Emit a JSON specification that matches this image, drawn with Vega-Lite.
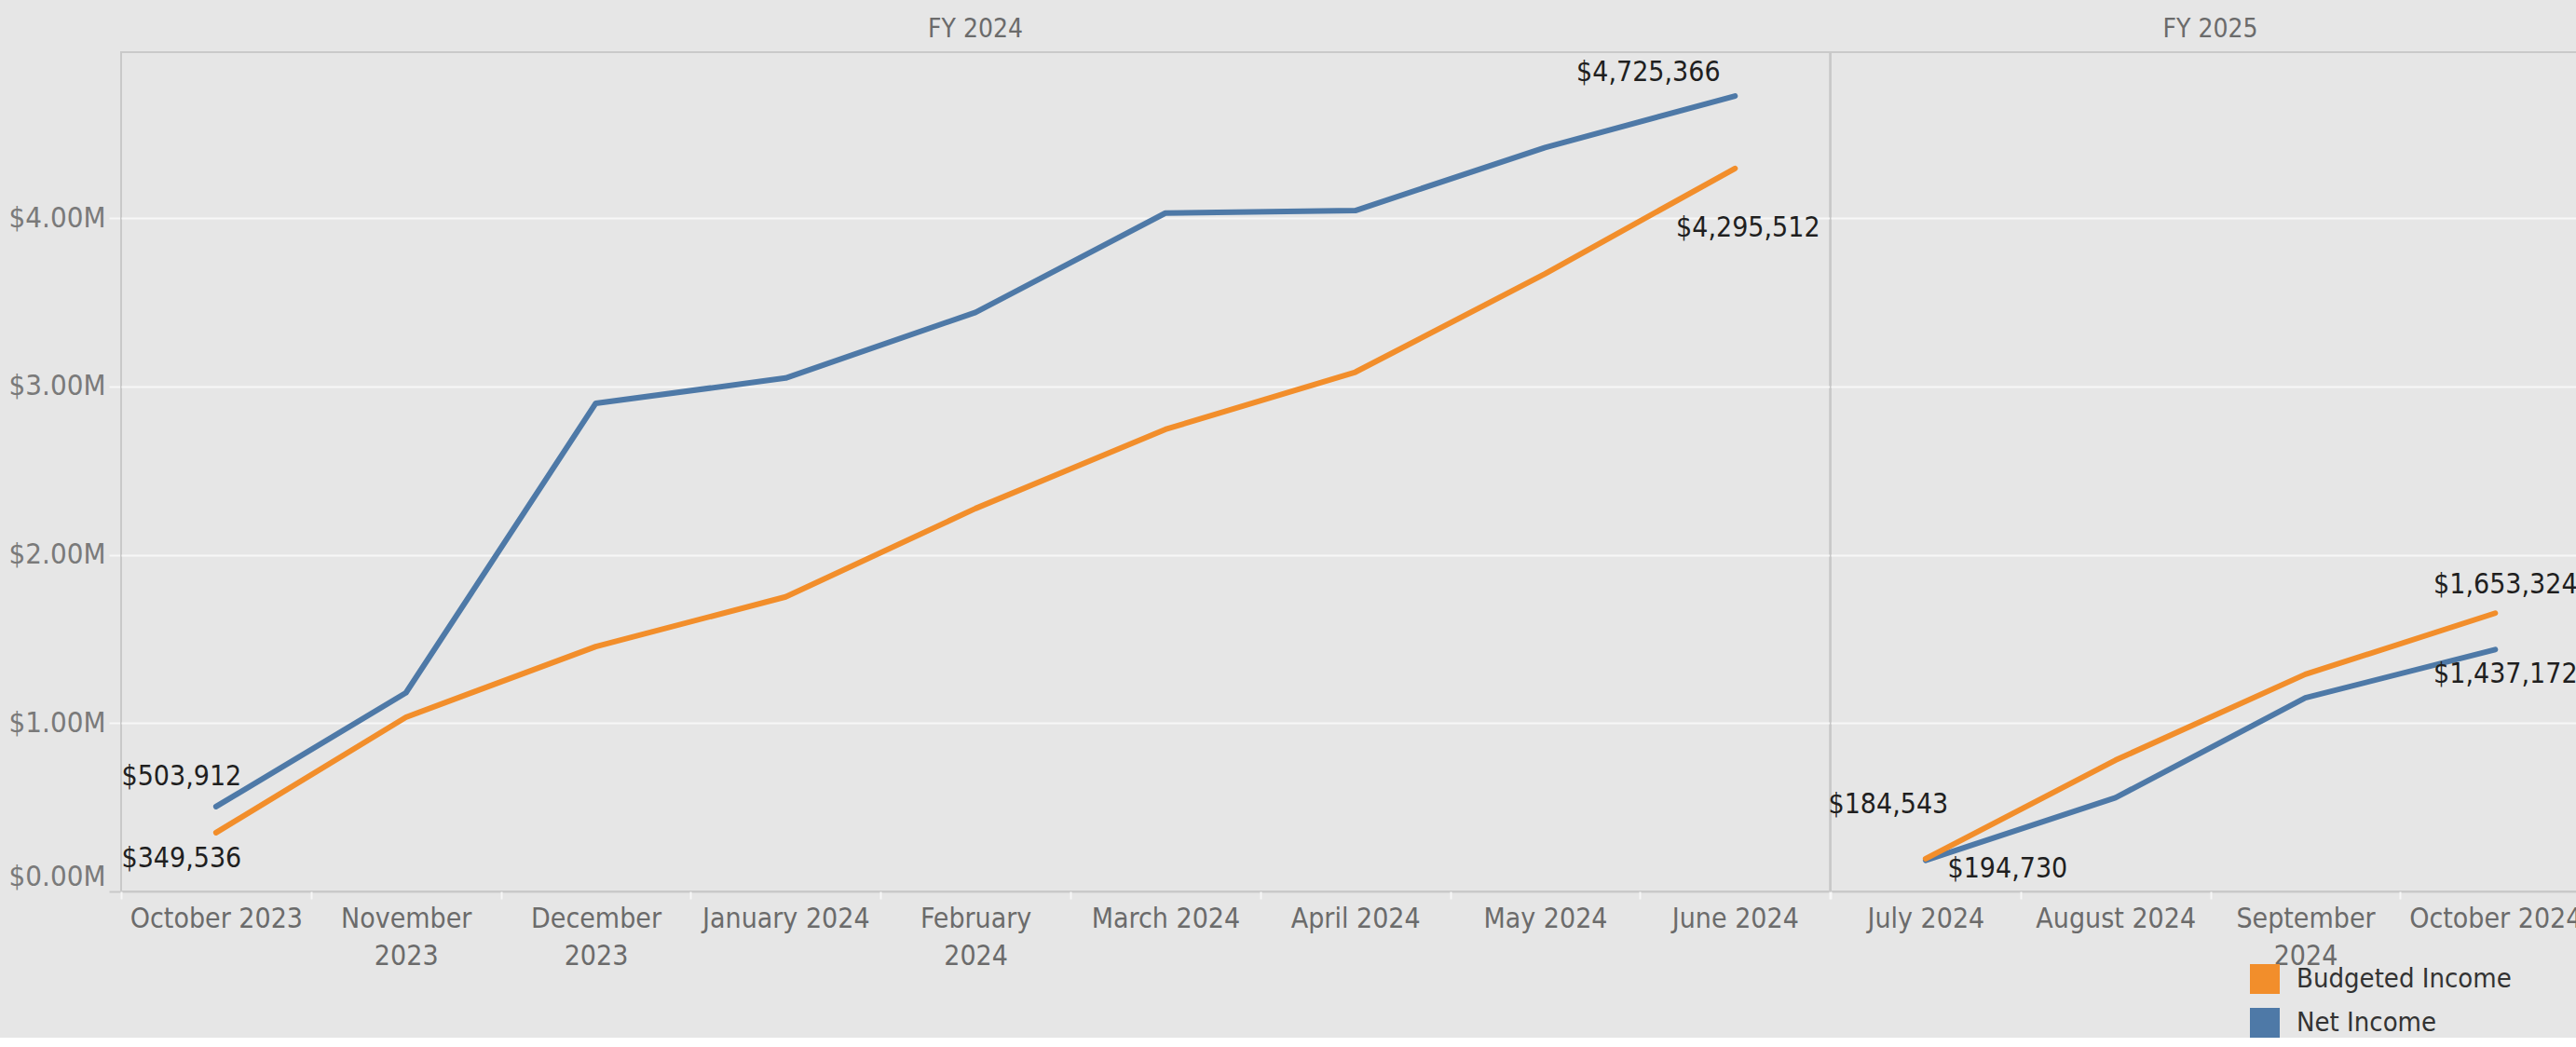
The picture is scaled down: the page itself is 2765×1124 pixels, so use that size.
{
  "$schema": "https://vega.github.io/schema/vega-lite/v6.json",
  "background": "#e6e6e6",
  "padding": {"left": 5, "top": 18, "right": 0, "bottom": 0},
  "bounds": "flush",
  "data": {
    "values": [
      {"fy": "FY 2024", "month": "October 2023", "series": "Net Income", "value": 503912},
      {"fy": "FY 2024", "month": "November 2023", "series": "Net Income", "value": 1180000},
      {"fy": "FY 2024", "month": "December 2023", "series": "Net Income", "value": 2900000},
      {"fy": "FY 2024", "month": "January 2024", "series": "Net Income", "value": 3050000},
      {"fy": "FY 2024", "month": "February 2024", "series": "Net Income", "value": 3440000},
      {"fy": "FY 2024", "month": "March 2024", "series": "Net Income", "value": 4030000},
      {"fy": "FY 2024", "month": "April 2024", "series": "Net Income", "value": 4045000},
      {"fy": "FY 2024", "month": "May 2024", "series": "Net Income", "value": 4420000},
      {"fy": "FY 2024", "month": "June 2024", "series": "Net Income", "value": 4725366},
      {"fy": "FY 2025", "month": "July 2024", "series": "Net Income", "value": 184543},
      {"fy": "FY 2025", "month": "August 2024", "series": "Net Income", "value": 557000},
      {"fy": "FY 2025", "month": "September 2024", "series": "Net Income", "value": 1150000},
      {"fy": "FY 2025", "month": "October 2024", "series": "Net Income", "value": 1437172},
      {"fy": "FY 2024", "month": "October 2023", "series": "Budgeted Income", "value": 349536},
      {"fy": "FY 2024", "month": "November 2023", "series": "Budgeted Income", "value": 1035000},
      {"fy": "FY 2024", "month": "December 2023", "series": "Budgeted Income", "value": 1455000},
      {"fy": "FY 2024", "month": "January 2024", "series": "Budgeted Income", "value": 1750000},
      {"fy": "FY 2024", "month": "February 2024", "series": "Budgeted Income", "value": 2275000},
      {"fy": "FY 2024", "month": "March 2024", "series": "Budgeted Income", "value": 2745000},
      {"fy": "FY 2024", "month": "April 2024", "series": "Budgeted Income", "value": 3085000},
      {"fy": "FY 2024", "month": "May 2024", "series": "Budgeted Income", "value": 3670000},
      {"fy": "FY 2024", "month": "June 2024", "series": "Budgeted Income", "value": 4295512},
      {"fy": "FY 2025", "month": "July 2024", "series": "Budgeted Income", "value": 194730},
      {"fy": "FY 2025", "month": "August 2024", "series": "Budgeted Income", "value": 780000},
      {"fy": "FY 2025", "month": "September 2024", "series": "Budgeted Income", "value": 1290000},
      {"fy": "FY 2025", "month": "October 2024", "series": "Budgeted Income", "value": 1653324}
    ]
  },
  "facet": {
    "column": {
      "field": "fy",
      "type": "nominal",
      "title": null,
      "header": {"labelFontSize": 28, "labelColor": "#6b6b6b", "labelPadding": 10, "labelFont": "'DejaVu Sans Condensed', 'DejaVu Sans', sans-serif"}
    }
  },
  "spacing": 0,
  "resolve": {"scale": {"x": "independent"}},
  "spec": {
    "width": {"step": 203.8},
    "height": 901,
    "encoding": {
      "x": {
        "field": "month",
        "type": "ordinal",
        "sort": ["October 2023", "November 2023", "December 2023", "January 2024", "February 2024", "March 2024", "April 2024", "May 2024", "June 2024", "July 2024", "August 2024", "September 2024", "October 2024"],
        "bandPosition": 0.5,
        "scale": {"type": "band", "paddingInner": 0, "paddingOuter": 0},
        "axis": {
          "title": null,
          "labelAngle": 0,
          "labelFontSize": 30,
          "labelColor": "#6b6b6b",
          "labelPadding": 6,
          "labelLineHeight": 40,
          "labelLimit": 0,
          "labelExpr": "indexof(['November 2023','December 2023','February 2024','September 2024'], datum.label) >= 0 ? split(datum.label, ' ') : datum.label",
          "domain": false,
          "ticks": true,
          "tickBand": "extent",
          "tickColor": "#f7f7f7",
          "tickSize": 8,
          "tickWidth": 2,
          "grid": false
        }
      },
      "y": {
        "field": "value",
        "type": "quantitative",
        "scale": {"domain": [0, 4986000], "nice": false},
        "axis": {
          "title": null,
          "values": [0, 1000000, 2000000, 3000000, 4000000],
          "labelExpr": "'$' + format(datum.value / 1000000, '.2f') + 'M'",
          "labelFontSize": 31,
          "labelColor": "#7a7a7a",
          "labelPadding": 4,
          "labelFlush": true,
          "domain": false,
          "tickColor": {"condition": {"test": "datum.value === 0", "value": "#c9c9c9"}, "value": "#f7f7f7"},
          "tickSize": 13,
          "tickWidth": 2,
          "gridColor": {"condition": {"test": "datum.value === 0", "value": "#c9c9c9"}, "value": "#f7f7f7"},
          "gridWidth": 2,
          "minExtent": 125,
          "maxExtent": 125
        }
      }
    },
    "layer": [
      {
        "mark": {"type": "line", "strokeWidth": 6, "strokeCap": "round", "strokeJoin": "round"},
        "encoding": {
          "color": {
            "field": "series",
            "type": "nominal",
            "scale": {"domain": ["Budgeted Income", "Net Income"], "range": ["#f28e2b", "#4e79a7"]},
            "legend": {
              "orient": "none",
              "legendX": 2285,
              "legendY": 979,
              "title": null,
              "symbolType": "square",
              "symbolSize": 1024,
              "labelFontSize": 29,
              "labelColor": "#333333",
              "labelOffset": 18,
              "labelLimit": 0,
              "rowPadding": 15,
              "encode": {
                "symbols": {
                  "update": {
                    "fill": {"scale": "color", "field": "value"},
                    "fillOpacity": {"value": 1},
                    "strokeWidth": {"value": 0},
                    "shape": {"value": "square"}
                  }
                }
              }
            }
          }
        }
      },
      {
        "transform": [{"filter": "datum.series === 'Net Income' && datum.month === 'October 2023'"}],
        "mark": {"type": "text", "dx": -37, "dy": -32},
        "encoding": {"text": {"field": "value", "type": "quantitative", "format": "$,.0f"}}
      },
      {
        "transform": [{"filter": "datum.series === 'Budgeted Income' && datum.month === 'October 2023'"}],
        "mark": {"type": "text", "dx": -37, "dy": 28},
        "encoding": {"text": {"field": "value", "type": "quantitative", "format": "$,.0f"}}
      },
      {
        "transform": [{"filter": "datum.series === 'Net Income' && datum.month === 'June 2024'"}],
        "mark": {"type": "text", "dx": -93, "dy": -25},
        "encoding": {"text": {"field": "value", "type": "quantitative", "format": "$,.0f"}}
      },
      {
        "transform": [{"filter": "datum.series === 'Budgeted Income' && datum.month === 'June 2024'"}],
        "mark": {"type": "text", "dx": 14, "dy": 64},
        "encoding": {"text": {"field": "value", "type": "quantitative", "format": "$,.0f"}}
      },
      {
        "transform": [{"filter": "datum.series === 'Net Income' && datum.month === 'July 2024'"}],
        "mark": {"type": "text", "dx": -40, "dy": -60},
        "encoding": {"text": {"field": "value", "type": "quantitative", "format": "$,.0f"}}
      },
      {
        "transform": [{"filter": "datum.series === 'Budgeted Income' && datum.month === 'July 2024'"}],
        "mark": {"type": "text", "dx": 88, "dy": 11},
        "encoding": {"text": {"field": "value", "type": "quantitative", "format": "$,.0f"}}
      },
      {
        "transform": [{"filter": "datum.series === 'Budgeted Income' && datum.month === 'October 2024'"}],
        "mark": {"type": "text", "dx": 11, "dy": -30},
        "encoding": {"text": {"field": "value", "type": "quantitative", "format": "$,.0f"}}
      },
      {
        "transform": [{"filter": "datum.series === 'Net Income' && datum.month === 'October 2024'"}],
        "mark": {"type": "text", "dx": 11, "dy": 27},
        "encoding": {"text": {"field": "value", "type": "quantitative", "format": "$,.0f"}}
      }
    ]
  },
  "config": {
    "font": "'DejaVu Sans Condensed', 'DejaVu Sans', sans-serif",
    "view": {"stroke": "#c9c9c9", "strokeWidth": 2},
    "text": {"fontSize": 30, "color": "#1f1f1f"},
    "axis": {"labelFont": "'DejaVu Sans Condensed', 'DejaVu Sans', sans-serif"},
    "legend": {"labelFont": "'DejaVu Sans Condensed', 'DejaVu Sans', sans-serif"}
  }
}
